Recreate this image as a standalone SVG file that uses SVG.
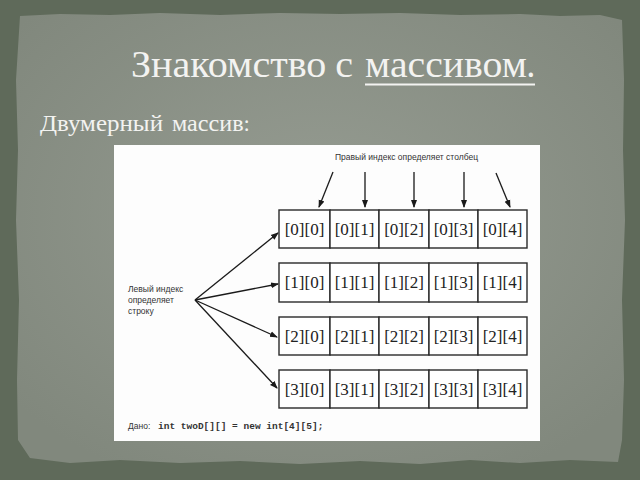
<svg xmlns="http://www.w3.org/2000/svg" width="640" height="480" viewBox="0 0 640 480">
<defs>
<radialGradient id="paper" cx="0.5" cy="0.45" r="0.65">
<stop offset="0" stop-color="#969c92"/>
<stop offset="1" stop-color="#81887d"/>
</radialGradient>
<marker id="ah" markerWidth="8" markerHeight="8" refX="7" refY="4" orient="auto" markerUnits="userSpaceOnUse">
<path d="M0,1 L8,4 L0,7 Z" fill="#1a1a1a"/>
</marker>
<style>
.cell{fill:#ffffff;stroke:#2a2a2a;stroke-width:1.4}
.idx{font-family:"Liberation Serif",serif;font-size:17px;fill:#222;text-anchor:middle}
.arr{stroke:#1a1a1a;stroke-width:1.3;fill:none;marker-end:url(#ah)}
.lbl{font-family:"Liberation Sans",Arial,sans-serif;font-size:8.5px;fill:#333}
.head{font-family:Cambria,"Liberation Serif",serif;fill:#f3f3f1}
</style>
</defs>
<rect width="640" height="480" fill="#5f6a5a"/>
<path d="M20,16 L60,14 L110,15 L160,13 L220,15 L280,13 L340,14 L400,13 L460,15 L520,14 L560,16 L600,15 L622,20 L624,80 L623,150 L625,220 L622,300 L624,380 L622,440 L618,462 L570,460 L520,463 L470,460 L420,464 L360,461 L300,464 L240,461 L180,463 L120,460 L70,463 L30,458 L18,440 L17,380 L19,300 L16,220 L18,150 L16,80 Z" fill="url(#paper)"/>
<g id="title">
<text class="head" x="131" y="77" font-size="38" textLength="222" lengthAdjust="spacingAndGlyphs">Знакомство с</text>
<text class="head" x="365" y="77" font-size="38" textLength="170" lengthAdjust="spacingAndGlyphs">массивом.</text>
<line x1="365" y1="84.5" x2="535" y2="84.5" stroke="#f3f3f1" stroke-width="2"/>
</g>
<g id="subtitle">
<text class="head" x="40" y="131" font-size="23" textLength="123" lengthAdjust="spacingAndGlyphs">Двумерный</text>
<text class="head" x="172" y="131" font-size="23" textLength="78" lengthAdjust="spacingAndGlyphs">массив:</text>
</g>
<rect id="figure" x="114" y="145" width="426" height="296" fill="#fdfdfd"/>
<g id="top-label"><text class="lbl" x="335" y="160">Правый индекс определяет столбец</text></g>
<g id="left-label"><text class="lbl" x="128" y="292">Левый индекс</text><text class="lbl" x="128" y="303">определяет</text><text class="lbl" x="128" y="314">строку</text></g>
<g id="row0">
<rect class="cell" x="279" y="210" width="51" height="38"/><rect class="cell" x="330" y="210" width="49" height="38"/><rect class="cell" x="379" y="210" width="50" height="38"/><rect class="cell" x="429" y="210" width="49" height="38"/><rect class="cell" x="478" y="210" width="49" height="38"/>
<text class="idx" x="304.5" y="235">[0][0]</text><text class="idx" x="354.5" y="235">[0][1]</text><text class="idx" x="404" y="235">[0][2]</text><text class="idx" x="453.5" y="235">[0][3]</text><text class="idx" x="502.5" y="235">[0][4]</text>
</g>
<g id="row1">
<rect class="cell" x="279" y="263" width="51" height="39"/><rect class="cell" x="330" y="263" width="49" height="39"/><rect class="cell" x="379" y="263" width="50" height="39"/><rect class="cell" x="429" y="263" width="49" height="39"/><rect class="cell" x="478" y="263" width="49" height="39"/>
<text class="idx" x="304.5" y="288">[1][0]</text><text class="idx" x="354.5" y="288">[1][1]</text><text class="idx" x="404" y="288">[1][2]</text><text class="idx" x="453.5" y="288">[1][3]</text><text class="idx" x="502.5" y="288">[1][4]</text>
</g>
<g id="row2">
<rect class="cell" x="279" y="317" width="51" height="38"/><rect class="cell" x="330" y="317" width="49" height="38"/><rect class="cell" x="379" y="317" width="50" height="38"/><rect class="cell" x="429" y="317" width="49" height="38"/><rect class="cell" x="478" y="317" width="49" height="38"/>
<text class="idx" x="304.5" y="342">[2][0]</text><text class="idx" x="354.5" y="342">[2][1]</text><text class="idx" x="404" y="342">[2][2]</text><text class="idx" x="453.5" y="342">[2][3]</text><text class="idx" x="502.5" y="342">[2][4]</text>
</g>
<g id="row3">
<rect class="cell" x="279" y="370" width="51" height="38"/><rect class="cell" x="330" y="370" width="49" height="38"/><rect class="cell" x="379" y="370" width="50" height="38"/><rect class="cell" x="429" y="370" width="49" height="38"/><rect class="cell" x="478" y="370" width="49" height="38"/>
<text class="idx" x="304.5" y="395">[3][0]</text><text class="idx" x="354.5" y="395">[3][1]</text><text class="idx" x="404" y="395">[3][2]</text><text class="idx" x="453.5" y="395">[3][3]</text><text class="idx" x="502.5" y="395">[3][4]</text>
</g>
<g id="connectors">
<line class="arr" x1="333" y1="172" x2="319" y2="207"/>
<line class="arr" x1="365" y1="172" x2="365" y2="207"/>
<line class="arr" x1="414" y1="172" x2="414" y2="207"/>
<line class="arr" x1="464" y1="172" x2="464" y2="207"/>
<line class="arr" x1="496" y1="173" x2="510" y2="207"/>
<line class="arr" x1="195" y1="300" x2="278" y2="233"/>
<line class="arr" x1="195" y1="300" x2="278" y2="284"/>
<line class="arr" x1="195" y1="300" x2="277" y2="337"/>
<line class="arr" x1="195" y1="300" x2="277" y2="388"/>
</g>
<g id="code">
<text x="128" y="429" font-family="'Liberation Sans',Arial,sans-serif" font-size="8.5" fill="#333">Дано:</text>
<text x="158" y="429" font-family="'Liberation Mono','Courier New',monospace" font-size="9.5" font-weight="bold" fill="#333">int twoD[][] = new int[4][5];</text>
</g>
</svg>
